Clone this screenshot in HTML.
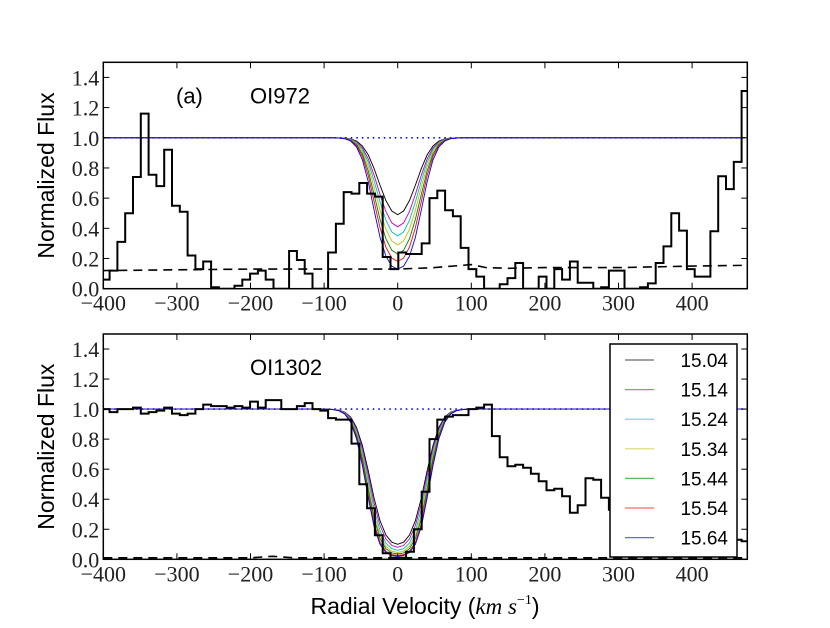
<!DOCTYPE html>
<html><head><meta charset="utf-8">
<style>
body{margin:0;background:#fff;}
</style></head>
<body>
<svg id="chart" width="830" height="623" viewBox="0 0 830 623" xmlns="http://www.w3.org/2000/svg"></svg>
<script>
// ---- data ----
const binStart = -402, binWidth = 10.6;
const fluxTop = [0.06,0.12,0.31,0.50,0.74,1.16,0.755,0.68,0.92,0.55,0.51,0.22,0.13,0.18,0.01,0,0,0.02,0.06,0.10,0.12,0.06,0,0,0.25,0.19,0.10,0,0,0.24,0.43,0.64,0.63,0.70,0.63,0.61,0.21,0.13,0.24,0.23,0.23,0.30,0.60,0.65,0.52,0.48,0.27,0.13,0.08,0,0,0.03,0.07,0.17,0,0,0.08,0,0.13,0.06,0.18,0.04,0.04,0,0.01,0.12,0.12,0,0,0.01,0.035,0.17,0.28,0.50,0.385,0.13,0.08,0.08,0.38,0.745,0.66,0.84,1.31];
const fluxBot = [1.00,0.98,1.00,1.00,1.01,0.97,0.98,0.99,1.01,0.97,0.96,0.97,1.00,1.03,1.02,1.02,1.01,1.02,1.01,1.05,1.01,1.06,1.06,1.00,1.00,1.02,1.04,1.00,0.99,0.94,0.93,0.93,0.77,0.50,0.34,0.16,0.04,0.01,0.01,0.05,0.20,0.45,0.80,0.93,0.95,0.96,0.96,1.00,1.01,1.03,0.82,0.68,0.62,0.63,0.61,0.57,0.52,0.46,0.47,0.42,0.31,0.36,0.54,0.53,0.41,0.33,0.30,0.25,0.22,0.20,0.20,0.18,0.15,0.15,0.14,0.14,0.14,0.14,0.14,0.14,0.14,0.13,0.12];
const errVelTop = [-400,-300,-200,-100,0,50,100,120,150,200,300,400,475];
const errTop = [0.12,0.125,0.13,0.13,0.13,0.14,0.16,0.14,0.135,0.14,0.14,0.15,0.155];
const errVelBot = [-400,-200,-170,-140,0,200,400,475];
const errBot = [0.01,0.01,0.02,0.01,0.01,0.01,0.01,0.01];
const columnDensities = ["15.04","15.14","15.24","15.34","15.44","15.54","15.64"];
const minTop = [0.49,0.41,0.35,0.29,0.23,0.18,0.13];
const minBot = [0.10,0.08,0.06,0.045,0.035,0.025,0.02];
const modelColors = ["#000000","#bf00bf","#00bfbf","#bfbf00","#008000","#ff0000","#0000ff"];
const xTicks = [-400,-300,-200,-100,0,100,200,300,400];
const yTicks = [0.0,0.2,0.4,0.6,0.8,1.0,1.2,1.4];

const NS="http://www.w3.org/2000/svg";
const svg=document.getElementById('chart');
const SERIF='"Liberation Serif", serif', SANS='"Liberation Sans", sans-serif';
function el(tag,attrs,parent){const e=document.createElementNS(NS,tag);for(const k in attrs)e.setAttribute(k,attrs[k]);(parent||svg).appendChild(e);return e;}

const X0=103.3,X1=747.3,XMIN=-400,XMAX=475;
function sx(v){return X0+(v-XMIN)/(XMAX-XMIN)*(X1-X0);}

function panel(name,top,bot,flux,errV,errF,mins,b,label,showA,showLegend){
  const g=el('g',{});
  
  
  function sy(f){return bot-f/1.5*(bot-top);}
  const cid='clip-'+name;
  const cp=el('clipPath',{id:cid},g);el('rect',{x:X0,y:top,width:X1-X0,height:bot-top},cp);
  const plot=el('g',{'clip-path':'url(#'+cid+')'},g);
  const cont=el('line',{x1:X0,x2:X1,y1:sy(1),y2:sy(1),stroke:'#0000ff','stroke-width':1.6,'stroke-dasharray':'1.5,4'},plot);
  
  
  mins.forEach((m,i)=>{
    const tau0=-Math.log(m);let pts=[];
    for(let v=XMIN;v<=XMAX;v+=8){const vv=Math.abs(v)<4?0:v;const f=Math.exp(-tau0*Math.exp(-(vv*vv)/(b*b)));pts.push(sx(vv).toFixed(1)+','+sy(f).toFixed(1));}
    const p=el('polyline',{points:pts.join(' '),fill:'none',stroke:modelColors[i],'stroke-width':0.9},plot);
    
    
  });
  let d='';
  flux.forEach((f,i)=>{const a=binStart+i*binWidth,c=a+binWidth;d+=(i?'L':'M')+sx(a).toFixed(1)+','+sy(f).toFixed(1)+'L'+sx(c).toFixed(1)+','+sy(f).toFixed(1);});
  const h=el('path',{d:d,fill:'none',stroke:'#000','stroke-width':2},plot);
  
  
  const e=el('polyline',{points:errV.map((v,i)=>sx(v).toFixed(1)+','+sy(errF[i]).toFixed(1)).join(' '),fill:'none',stroke:'#000','stroke-width':1.6,'stroke-dasharray':'9,6'},plot);
  
  
  el('rect',{x:X0,y:top,width:X1-X0,height:bot-top,fill:'none',stroke:'#000','stroke-width':1.5},g);
  xTicks.forEach(t=>{
    const x=sx(t);
    el('line',{x1:x,x2:x,y1:bot,y2:bot-6,stroke:'#000'},g);
    el('line',{x1:x,x2:x,y1:top,y2:top+6,stroke:'#000'},g);
    const tx=el('text',{x:x,y:bot+22,'text-anchor':'middle','font-size':22,fill:'#222','font-family':SERIF},g);
    tx.textContent=t<0?'\u2212'+(-t):String(t);
    
    
  });
  yTicks.forEach(t=>{
    const y=sy(t);
    el('line',{x1:X0,x2:X0+6,y1:y,y2:y,stroke:'#000'},g);
    el('line',{x1:X1,x2:X1-6,y1:y,y2:y,stroke:'#000'},g);
    const ty=el('text',{x:X0-4,y:y+8,'text-anchor':'end','font-size':22,fill:'#222','font-family':SERIF},g);
    ty.textContent=t.toFixed(1);
    
    
  });
  const yl=el('text',{x:0,y:0,transform:'translate(54,'+((top+bot)/2)+') rotate(-90)','text-anchor':'middle','font-size':23,'font-family':SANS},g);
  yl.textContent='Normalized Flux';
  
  
  if(showA){const a=el('text',{x:176,y:top+41,'font-size':22,'font-family':SANS},g);a.textContent='(a)';
    
    }
  const lt=el('text',{x:250,y:top+41,'font-size':22,'font-family':SANS},g);lt.textContent=label;
  
  
  if(showLegend){
    const lg=el('g',{},g);
    
    
    el('rect',{x:610,y:344,width:127,height:213,fill:'#fff',stroke:'#000','stroke-width':1.5},lg);
    columnDensities.forEach((n,i)=>{
      const y=360+i*29.6;
      const en=el('g',{},lg);
      
      
      el('line',{x1:625,x2:654,y1:y,y2:y,stroke:modelColors[i],'stroke-opacity':0.6,'stroke-width':1.2},en);
      const t=el('text',{x:728,y:y+7,'text-anchor':'end','font-size':19,'font-family':SANS},en);t.textContent=n;
    });
  }
}
panel('panel-oi972',62.3,288.7,fluxTop,errVelTop,errTop,minTop,30,'OI972',true,false);
panel('panel-oi1302',334,559.3,fluxBot,errVelBot,errBot,minBot,33,'OI1302',false,true);
const xl=el('text',{x:425,y:614,'text-anchor':'middle','font-size':23,'font-family':SANS});
xl.innerHTML='Radial Velocity (<tspan font-family="Liberation Serif" font-style="italic">km s</tspan><tspan font-family="Liberation Serif" font-size="14" dy="-10">\u22121</tspan><tspan dy="10">)</tspan>';


</script>
</body></html>
